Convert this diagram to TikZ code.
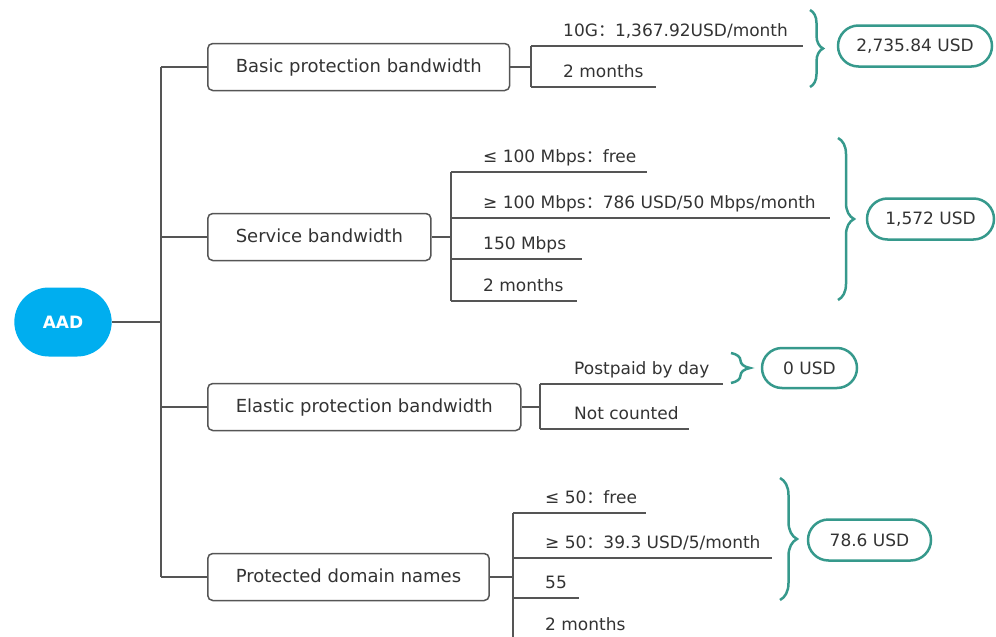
\documentclass[tikz,border=0pt]{standalone}
\usepackage{fontspec}
\setmainfont{DejaVu Sans}
\newfontfamily\cjk{Noto Sans CJK SC}
\usetikzlibrary{decorations.pathreplacing}
\usetikzlibrary{shapes.misc}
\definecolor{linegray}{RGB}{85,85,85}
\definecolor{textgray}{RGB}{51,51,51}
\definecolor{aadblue}{RGB}{0,174,239}
\definecolor{sumteal}{RGB}{54,153,140}
\newcommand{\fcolon}{{\cjk ：}}
\tikzset{
  link/.style={draw=linegray, line width=1.5pt},
  branch/.style={draw=linegray, line width=1.5pt, rounded corners=5pt,
    text=textgray, font=\fontsize{18}{22}\selectfont,
    minimum height=47pt, inner xsep=28pt, anchor=west,
    text height=12pt, text depth=2pt},
  leaf/.style={anchor=base west, text=textgray,
    font=\fontsize{17}{20}\selectfont, inner sep=0pt},
  sumbrace/.style={draw=sumteal, line width=2.5pt, decorate,
    decoration={brace, amplitude=#1}},
  sumbrace/.default=15pt,
  sumbox/.style={rounded rectangle, draw=sumteal, line width=2.5pt,
    text=textgray, font=\fontsize{17}{20}\selectfont,
    minimum height=41pt, inner xsep=0pt}
}

\begin{document}
\begin{tikzpicture}[x=1pt, y=-1pt]
  \useasboundingbox (0,0) rectangle (996,637);
  % root
  \node[rounded rectangle, fill=aadblue, minimum width=104pt, minimum height=69pt,
        text=white, font=\bfseries\fontsize{17}{20}\selectfont] (aad) at (63,322) {AAD};
  \coordinate (trunktop) at (161,67);
  \coordinate (trunkbot) at (161,577);
  \draw[link] (trunktop) -- (trunkbot);
  \draw[link] (aad.east) -- (aad.east -| trunktop);
  % branches
  \node[branch] (basic)   at (207,67)  {Basic protection bandwidth};
  \node[branch] (service) at (207,237) {Service bandwidth};
  \node[branch] (elastic) at (207,407) {Elastic protection bandwidth};
  \node[branch] (domain)  at (207,577) {Protected domain names};
  \draw[link] (basic.west -| trunktop)   -- (basic.west);
  \draw[link] (service.west -| trunktop) -- (service.west);
  \draw[link] (elastic.west -| trunktop) -- (elastic.west);
  \draw[link] (domain.west -| trunktop)  -- (domain.west);

  % basic protection bandwidth
  \coordinate (bfork) at (531,46);
  \draw[link] (basic.east) -- (basic.east -| bfork);
  \draw[link] (bfork) -- (531,87);
  \draw[link] (bfork) -- (803,46);
  \draw[link] (531,87) -- (656,87);
  \node[leaf] (b1) at (563,36) {10G\fcolon 1,367.92USD/month};
  \node[leaf] (b2) at (563,77) {2 months};
  \draw[sumbrace=13pt] (810,10) -- (810,87);
  \node[sumbox, minimum width=154pt] (basicsum) at (915,46) {2,735.84 USD};

  % service bandwidth
  \coordinate (sfork) at (451,172);
  \draw[link] (service.east) -- (service.east -| sfork);
  \draw[link] (sfork) -- (451,301);
  \draw[link] (sfork) -- (647,172);
  \draw[link] (451,218) -- (830,218);
  \draw[link] (451,259) -- (582,259);
  \draw[link] (451,301) -- (577,301);
  \node[leaf] (s1) at (483,162) {≤ 100 Mbps\fcolon free};
  \node[leaf] (s2) at (483,208) {≥ 100 Mbps\fcolon 786 USD/50 Mbps/month};
  \node[leaf] (s3) at (483,249) {150 Mbps};
  \node[leaf] (s4) at (483,291) {2 months};
  \draw[sumbrace=16pt] (838,138) -- (838,300);
  \node[sumbox, minimum width=127pt] (servicesum) at (930.5,219) {1,572 USD};

  % elastic protection bandwidth
  \coordinate (efork) at (540,384);
  \draw[link] (elastic.east) -- (elastic.east -| efork);
  \draw[link] (efork) -- (540,429);
  \draw[link] (efork) -- (723,384);
  \draw[link] (540,429) -- (689,429);
  \node[leaf] (e1) at (574,374) {Postpaid by day};
  \node[leaf] (e2) at (574,419) {Not counted};
  \draw[sumbrace=19pt] (731,353) -- (731,383);
  \node[sumbox, minimum width=95pt, minimum height=40pt] (elasticsum) at (809.5,368) {0 USD};

  % protected domain names
  \coordinate (dfork) at (513,513);
  \draw[link] (domain.east) -- (domain.east -| dfork);
  \draw[link] (dfork) -- (513,640);
  \draw[link] (dfork) -- (646,513);
  \draw[link] (513,558) -- (772,558);
  \draw[link] (513,598) -- (579,598);
  \draw[link] (513,640) -- (600,640);
  \node[leaf] (d1) at (545,503) {≤ 50\fcolon free};
  \node[leaf] (d2) at (545,548) {≥ 50\fcolon 39.3 USD/5/month};
  \node[leaf] (d3) at (545,588) {55};
  \node[leaf] (d4) at (545,630) {2 months};
  \draw[sumbrace=17pt] (780,478) -- (780,600);
  \node[sumbox, minimum width=123pt] (domainsum) at (869.5,540) {78.6 USD};
\end{tikzpicture}
\end{document}
